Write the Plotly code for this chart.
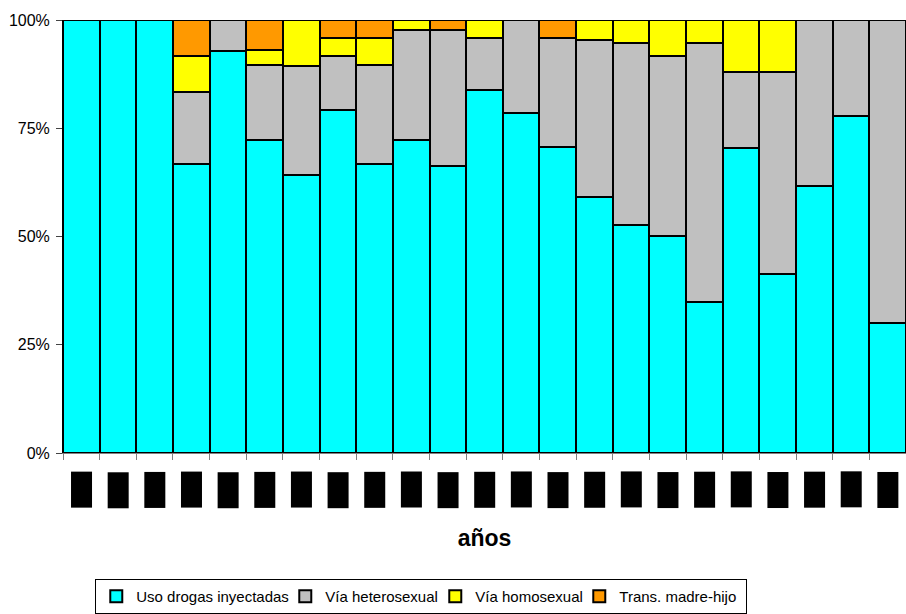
import plotly.graph_objects as go

years = [str(y) for y in range(1985, 2008)]
uso_drogas = [100, 100, 100, 66.7, 92.9, 72.4, 64.3, 79.2, 66.7, 72.4, 66.2, 83.9,
              78.5, 70.7, 59.2, 52.7, 50.1, 34.9, 70.5, 41.4, 61.6, 77.9, 30.0]
heterosexual = [0, 0, 0, 16.7, 7.1, 17.2, 25.0, 12.5, 22.9, 25.3, 31.5, 11.9,
                21.5, 25.1, 36.1, 42.0, 41.5, 59.8, 17.4, 46.5, 38.4, 22.1, 70.0]
homosexual = [0, 0, 0, 8.3, 0, 3.5, 10.7, 4.2, 6.2, 2.3, 0, 4.2,
              0, 0, 4.7, 5.3, 8.4, 5.3, 12.1, 12.1, 0, 0, 0]
madre_hijo = [0, 0, 0, 8.3, 0, 6.9, 0, 4.1, 4.2, 0, 2.3, 0,
              0, 4.2, 0, 0, 0, 0, 0, 0, 0, 0, 0]

series = [
    ("Uso drogas inyectadas", uso_drogas, "#00FFFF", 144),
    ("Vía heterosexual", heterosexual, "#C0C0C0", 105),
    ("Vía homosexual", homosexual, "#FFFF00", 99),
    ("Trans. madre-hijo", madre_hijo, "#FF9900", 122),
]

fig = go.Figure()
for name, vals, color, lw in series:
    fig.add_trace(go.Bar(
        x=years, y=[v / 100 for v in vals], name=name, legendwidth=lw,
        marker=dict(color=color, line=dict(color="black", width=2)),
    ))

for i, yr in enumerate(years):
    fig.add_annotation(
        x=i, xref="x", y=-0.085, yref="paper", yanchor="middle",
        text=yr, textangle=-90, showarrow=False,
        font=dict(family="Liberation Sans, Arial", size=14, color="black"),
        bgcolor="black", borderpad=2,
    )

fig.update_layout(
    barmode="stack", bargap=0,
    width=906, height=614,
    margin=dict(l=63, r=0, t=20, b=156),
    plot_bgcolor="white", paper_bgcolor="white",
    font=dict(family="Liberation Sans, Arial", color="black"),
    showlegend=True,
    legend=dict(
        orientation="h", x=0.425, xanchor="center", y=-0.292, yanchor="top",
        font=dict(size=15), bordercolor="black", borderwidth=1,
        traceorder="normal", itemwidth=30,
    ),
    xaxis=dict(
        type="category", range=[-0.5, len(years) - 0.5],
        showticklabels=False, ticks="outside", tickson="boundaries",
        ticklen=6, tickcolor="#808080", showline=True, linecolor="#808080",
        title=dict(text="<b>años</b>", font=dict(size=23), standoff=76),
        automargin=False,
    ),
    yaxis=dict(
        range=[0, 1], tickvals=[0, 0.25, 0.5, 0.75, 1], tickformat=".0%",
        ticks="outside", ticklen=6, showline=True, linecolor="black",
        showgrid=False, tickfont=dict(size=16), zeroline=False,
        automargin=False, ticklabelstandoff=3,
    ),
)

fig.write_html("out.html", post_script="document.body.style.margin='0px';",
               config={"displayModeBar": False})
